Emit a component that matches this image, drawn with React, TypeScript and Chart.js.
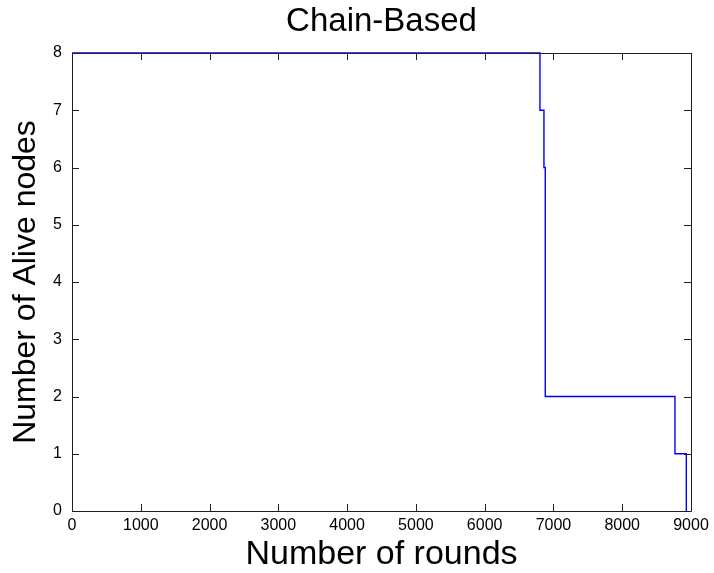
import React, { useEffect, useRef } from "react";
import { Chart, registerables } from "chart.js";

Chart.register(...registerables);

const chartTitle = "Chain-Based";
const xAxisTitle = "Number of rounds";
const yAxisTitle = "Number of Alive nodes";

// Rounds at which the alive-node count changes, and the new count from that round
const roundsX = [0, 6804, 6862, 6881, 8767, 8932];
const aliveY = [8, 7, 6, 2, 1, 0];

const xMin = 0;
const xMax = 9000;
const xStep = 1000;
const yMin = 0;
const yMax = 8;
const yStep = 1;

const AXIS_COLOR = "#1f1f1f";
const TEXT_COLOR = "#000000";
const LINE_COLOR = "#0000ff";
const FONT = "'Liberation Sans', Arial, sans-serif";

const boxTicksPlugin = {
  id: "boxTicks",
  afterDraw(chart: any) {
    const { ctx, chartArea, scales } = chart;
    const { left, right, top, bottom } = chartArea;
    const len = 7;
    ctx.save();
    ctx.strokeStyle = AXIS_COLOR;
    ctx.lineWidth = 1;
    ctx.beginPath();
    ctx.rect(Math.round(left) + 0.5, Math.round(top) + 0.5, Math.round(right - left), Math.round(bottom - top));
    ctx.stroke();
    ctx.beginPath();
    scales.x.ticks.forEach((t: any) => {
      const px = Math.round(scales.x.getPixelForValue(t.value)) + 0.5;
      ctx.moveTo(px, bottom);
      ctx.lineTo(px, bottom - len);
      ctx.moveTo(px, top);
      ctx.lineTo(px, top + len);
    });
    scales.y.ticks.forEach((t: any) => {
      const py = Math.round(scales.y.getPixelForValue(t.value)) + 0.5;
      ctx.moveTo(left, py);
      ctx.lineTo(left + len, py);
      ctx.moveTo(right, py);
      ctx.lineTo(right - len, py);
    });
    ctx.stroke();
    // title centred over the plot area
    ctx.fillStyle = TEXT_COLOR;
    ctx.font = `33px ${FONT}`;
    ctx.textAlign = "center";
    ctx.textBaseline = "middle";
    ctx.fillText(chartTitle, (left + right) / 2, 22);
    ctx.restore();
  },
};

export default function App() {
  const canvasRef = useRef<HTMLCanvasElement | null>(null);

  useEffect(() => {
    if (!canvasRef.current) return;
    const points = roundsX.map((x, i) => ({ x, y: aliveY[i] }));
    const chart = new Chart(canvasRef.current, {
      type: "line",
      data: {
        datasets: [
          {
            data: points,
            borderColor: LINE_COLOR,
            borderWidth: 1.4,
            stepped: "before",
            pointRadius: 0,
            fill: false,
            clip: false,
          },
        ],
      },
      plugins: [boxTicksPlugin],
      options: {
        responsive: false,
        animation: false,
        events: [],
        layout: { padding: { top: 53, left: 0, right: 23, bottom: 0 } },
        plugins: {
          legend: { display: false },
          tooltip: { enabled: false },
          title: { display: false },
        },
        scales: {
          x: {
            type: "linear",
            min: xMin,
            max: xMax,
            grid: { display: false, drawTicks: false },
            border: { display: false },
            ticks: {
              stepSize: xStep,
              color: TEXT_COLOR,
              padding: 5,
              maxRotation: 0,
              autoSkip: false,
              font: { family: FONT, size: 16 },
              callback: (v: any) => String(v),
            },
            title: {
              display: true,
              text: xAxisTitle,
              color: TEXT_COLOR,
              font: { family: FONT, size: 34, lineHeight: 1.1 },
              padding: { top: 0, bottom: 0 },
            },
            afterFit: (scale: any) => {
              scale.height = 62;
            },
          },
          y: {
            type: "linear",
            min: yMin,
            max: yMax,
            grid: { display: false, drawTicks: false },
            border: { display: false },
            ticks: {
              stepSize: yStep,
              color: TEXT_COLOR,
              padding: 10,
              font: { family: FONT, size: 16 },
            },
            title: {
              display: true,
              text: yAxisTitle,
              color: TEXT_COLOR,
              font: { family: FONT, size: 32, lineHeight: 1.2 },
              padding: { top: 7, bottom: 0 },
            },
            afterFit: (scale: any) => {
              scale.width = 72;
            },
          },
        },
      },
    } as any);
    return () => chart.destroy();
  }, []);

  return (
    <div style={{ position: "absolute", left: 0, top: 0, width: 714, height: 573, background: "#ffffff" }}>
      <canvas ref={canvasRef} width={714} height={573} style={{ display: "block" }} />
    </div>
  );
}
